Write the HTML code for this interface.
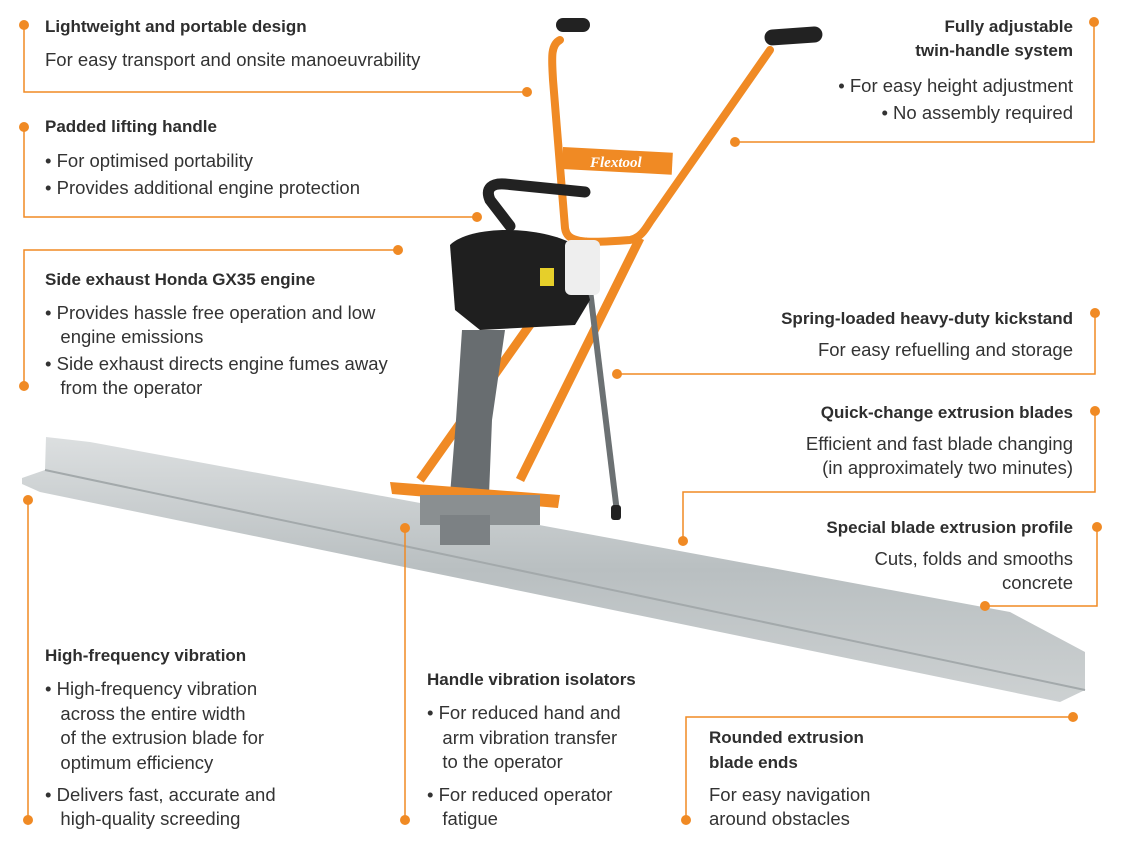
<!DOCTYPE html>
<html><head><meta charset="utf-8"><style>
html,body{margin:0;padding:0;background:#fff;}
#c{position:relative;width:1126px;height:850px;overflow:hidden;font-family:"Liberation Sans",sans-serif;color:#333;}
.t{position:absolute;font-size:18.5px;line-height:24px;white-space:nowrap;}
.b{font-weight:bold;color:#2e2e2e;font-size:17px;}
.r{text-align:right;}
svg{position:absolute;left:0;top:0;}
</style></head><body><div id="c">
<svg width="1126" height="850" viewBox="0 0 1126 850">
<defs>
<linearGradient id="bl" x1="0" y1="0" x2="0" y2="1"><stop offset="0" stop-color="#dcdfe0"/><stop offset="0.5" stop-color="#b9bfc1"/><stop offset="1" stop-color="#cdd1d2"/></linearGradient>
</defs>
<polygon points="46,437 90,442 1010,612 1085,652 1085,690 1060,702 40,492 22,484 22,478 45,470" fill="url(#bl)"/>
<polyline points="45,470 1085,690" stroke="#a3a9ab" stroke-width="2" fill="none"/>
<path d="M560,40 C550,45 552,60 553,80 L565,228 C567,242 580,244 630,240 C640,238 645,230 650,222 L770,50" stroke="#f08a24" stroke-width="8" fill="none" stroke-linecap="round"/>
<rect x="563" y="147" width="110" height="22" fill="#f08a24" transform="rotate(3 563 147)"/>
<text x="590" y="167" font-family="Liberation Serif,serif" font-style="italic" font-weight="bold" font-size="15" fill="#fff">Flextool</text>
<rect x="556" y="18" width="34" height="14" rx="7" fill="#222"/>
<rect x="764" y="30" width="58" height="16" rx="8" fill="#222" transform="rotate(-4 764 30)"/>
<path d="M640,238 L520,480 M590,240 L420,480" stroke="#f08a24" stroke-width="9" fill="none"/>
<path d="M590,290 L617,512" stroke="#6c7173" stroke-width="6"/>
<rect x="611" y="505" width="10" height="15" rx="3" fill="#222"/>
<path d="M510,226 L490,200 C485,188 492,183 505,184 L585,192" stroke="#222" stroke-width="11" fill="none" stroke-linecap="round"/>
<polygon points="462,330 505,330 492,420 488,520 448,520 456,420" fill="#686d70"/>
<path d="M450,245 C470,225 540,225 575,245 L590,300 L575,325 L480,330 L455,310 Z" fill="#1f1f1f"/>
<rect x="565" y="240" width="35" height="55" rx="6" fill="#eee"/>
<rect x="540" y="268" width="14" height="18" fill="#e6cf2a"/>
<polygon points="390,482 560,495 558,508 392,494" fill="#f08a24"/>
<rect x="420" y="495" width="120" height="30" fill="#8a8f91"/>
<rect x="440" y="515" width="50" height="30" fill="#7c8184"/>
</svg>

<svg width="1126" height="850" viewBox="0 0 1126 850" fill="none" stroke="#f08a24" stroke-width="1.5">
<g>
<polyline points="24,25 24,92 527,92"/>
<polyline points="24,127 24,217 477,217"/>
<polyline points="398,250 24,250 24,386"/>
<polyline points="1094,22 1094,142 735,142"/>
<polyline points="1095,313 1095,374 617,374"/>
<polyline points="1095,411 1095,492 683,492 683,541"/>
<polyline points="1097,527 1097,606 985,606"/>
<polyline points="1073,717 686,717 686,820"/>
<polyline points="28,500 28,820"/>
<polyline points="405,528 405,820"/>
</g>
<g fill="#f08a24" stroke="none">
<circle cx="24" cy="25" r="5"/><circle cx="527" cy="92" r="5"/>
<circle cx="24" cy="127" r="5"/><circle cx="477" cy="217" r="5"/>
<circle cx="398" cy="250" r="5"/><circle cx="24" cy="386" r="5"/>
<circle cx="1094" cy="22" r="5"/><circle cx="735" cy="142" r="5"/>
<circle cx="1095" cy="313" r="5"/><circle cx="617" cy="374" r="5"/>
<circle cx="1095" cy="411" r="5"/><circle cx="683" cy="541" r="5"/>
<circle cx="1097" cy="527" r="5"/><circle cx="985" cy="606" r="5"/>
<circle cx="1073" cy="717" r="5"/><circle cx="686" cy="820" r="5"/>
<circle cx="28" cy="500" r="5"/><circle cx="28" cy="820" r="5"/>
<circle cx="405" cy="528" r="5"/><circle cx="405" cy="820" r="5"/>
</g>
</svg>

<div class="t b" style="left:45px;top:15px">Lightweight and portable design</div>
<div class="t" style="left:45px;top:48px">For easy transport and onsite manoeuvrability</div>

<div class="t b" style="left:45px;top:115px">Padded lifting handle</div>
<div class="t" style="left:45px;top:149px">• For optimised portability</div>
<div class="t" style="left:45px;top:176px">• Provides additional engine protection</div>

<div class="t b" style="left:45px;top:268px">Side exhaust Honda GX35 engine</div>
<div class="t" style="left:45px;top:301px">• Provides hassle free operation and low<br>&nbsp;&nbsp;&nbsp;engine emissions</div>
<div class="t" style="left:45px;top:352px">• Side exhaust directs engine fumes away<br>&nbsp;&nbsp;&nbsp;from the operator</div>

<div class="t b r" style="right:53px;top:15px">Fully adjustable<br>twin-handle system</div>
<div class="t r" style="right:53px;top:72px;line-height:27px">• For easy height adjustment<br>• No assembly required</div>

<div class="t b r" style="right:53px;top:307px">Spring-loaded heavy-duty kickstand</div>
<div class="t r" style="right:53px;top:338px">For easy refuelling and storage</div>

<div class="t b r" style="right:53px;top:401px">Quick-change extrusion blades</div>
<div class="t r" style="right:53px;top:432px">Efficient and fast blade changing<br>(in approximately two minutes)</div>

<div class="t b r" style="right:53px;top:516px">Special blade extrusion profile</div>
<div class="t r" style="right:53px;top:547px">Cuts, folds and smooths<br>concrete</div>

<div class="t b" style="left:45px;top:644px">High-frequency vibration</div>
<div class="t" style="left:45px;top:677px;line-height:24.5px">• High-frequency vibration<br>&nbsp;&nbsp;&nbsp;across the entire width<br>&nbsp;&nbsp;&nbsp;of the extrusion blade for<br>&nbsp;&nbsp;&nbsp;optimum efficiency</div>
<div class="t" style="left:45px;top:783px">• Delivers fast, accurate and<br>&nbsp;&nbsp;&nbsp;high-quality screeding</div>

<div class="t b" style="left:427px;top:668px">Handle vibration isolators</div>
<div class="t" style="left:427px;top:701px;line-height:24.5px">• For reduced hand and<br>&nbsp;&nbsp;&nbsp;arm vibration transfer<br>&nbsp;&nbsp;&nbsp;to the operator</div>
<div class="t" style="left:427px;top:783px">• For reduced operator<br>&nbsp;&nbsp;&nbsp;fatigue</div>

<div class="t b" style="left:709px;top:725px;line-height:25px">Rounded extrusion<br>blade ends</div>
<div class="t" style="left:709px;top:783px">For easy navigation<br>around obstacles</div>
</div></body></html>
